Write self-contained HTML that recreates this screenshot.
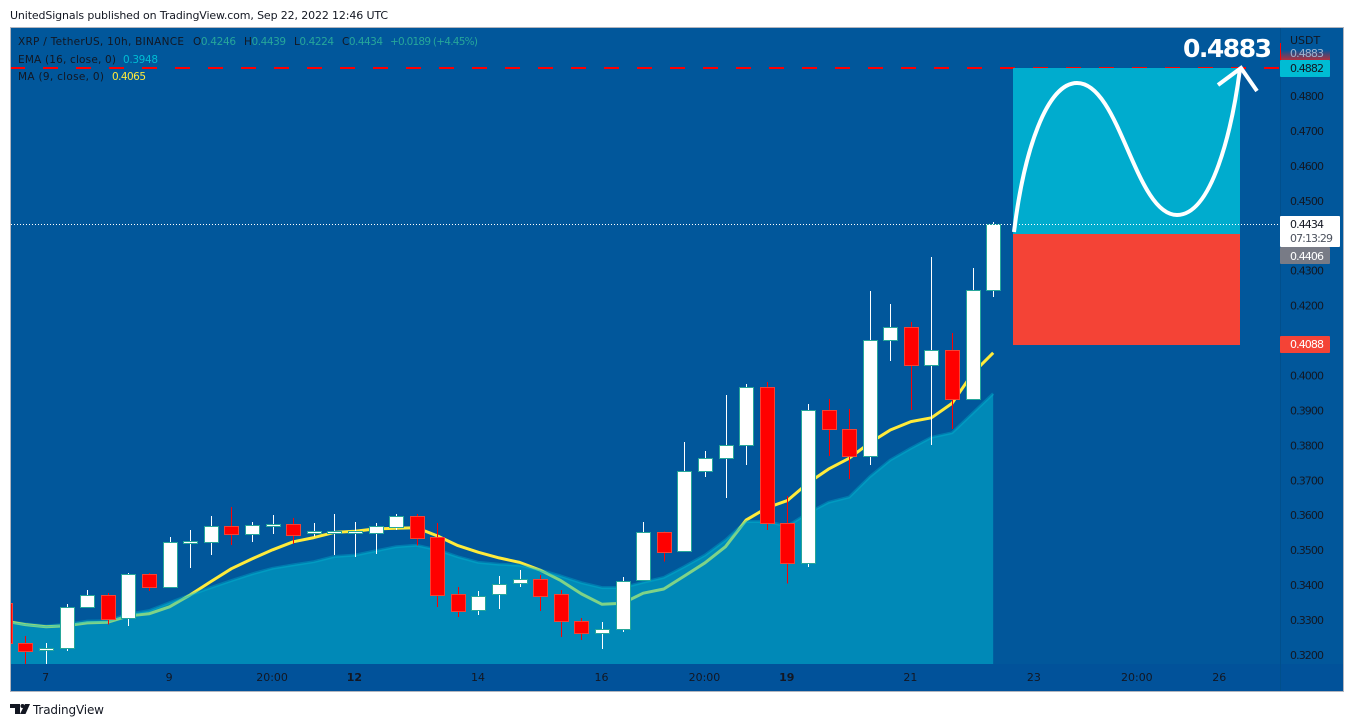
<!DOCTYPE html>
<html lang="en">
<head>
<meta charset="utf-8">
<title>XRP / TetherUS chart</title>
<style>
html,body{margin:0;padding:0;background:#fff;width:1354px;height:727px;overflow:hidden}
svg{display:block;font-family:"DejaVu Sans","Liberation Sans",sans-serif}
</style>
</head>
<body>
<svg id="chart" xmlns="http://www.w3.org/2000/svg" width="1354" height="727" viewBox="0 0 1354 727">
  <defs>
    <clipPath id="plot-clip"><rect x="11" y="28" width="1269" height="636"/></clipPath>
    <linearGradient id="fade-label" x1="0" y1="0" x2="0" y2="1">
      <stop offset="0" stop-color="#01579b"/>
      <stop offset="1" stop-color="#b0303f"/>
    </linearGradient>
  </defs>
  <text x="10" y="19" font-size="11" fill="#131722" textLength="378" lengthAdjust="spacing">UnitedSignals published on TradingView.com, Sep 22, 2022 12:46 UTC</text>
  <rect x="10.5" y="27.5" width="1333" height="664" fill="#01579b" stroke="#b2b5be"/>
  <rect x="11" y="664" width="1332" height="27" fill="#01529a"/>
  <line x1="1280.5" y1="28" x2="1280.5" y2="691" stroke="#014f8c"/>
  <g id="plot" clip-path="url(#plot-clip)"></g>
  <g id="price-axis"></g>
  <g id="time-axis"></g>

  <g font-size="10.500">
    <text x="18" y="45" fill="#131722" textLength="166" lengthAdjust="spacing">XRP / TetherUS, 10h, BINANCE</text>
    <text x="193" y="45" fill="#26a69a" textLength="43" lengthAdjust="spacing"><tspan fill="#131722">O</tspan>0.4246</text>
    <text x="244" y="45" fill="#26a69a" textLength="42" lengthAdjust="spacing"><tspan fill="#131722">H</tspan>0.4439</text>
    <text x="294" y="45" fill="#26a69a" textLength="40" lengthAdjust="spacing"><tspan fill="#131722">L</tspan>0.4224</text>
    <text x="342" y="45" fill="#26a69a" textLength="41" lengthAdjust="spacing"><tspan fill="#131722">C</tspan>0.4434</text>
    <text x="390" y="45" fill="#26a69a" textLength="88" lengthAdjust="spacing">+0.0189 (+4.45%)</text>
    <text x="18" y="63" fill="#131722" textLength="98" lengthAdjust="spacing">EMA (16, close, 0)</text>
    <text x="123" y="63" fill="#00bcd4" textLength="35" lengthAdjust="spacing">0.3948</text>
    <text x="18" y="80" fill="#131722" textLength="86" lengthAdjust="spacing">MA (9, close, 0)</text>
    <text x="112" y="80" fill="#ffeb3b" textLength="34" lengthAdjust="spacing">0.4065</text>
  </g>

  <g>
    <path d="M10 704h10v10h-5v-6h-5z" fill="#131722"/>
    <circle cx="22.500" cy="706" r="2" fill="#131722"/>
    <path d="M25 704h5l-4.500 10h-5.500z" fill="#131722"/>
    <text x="33" y="714" font-size="12" fill="#131722" textLength="71" lengthAdjust="spacing">TradingView</text>
  </g>
</svg>
<script>
var opens  = [0.3348,0.3233,0.3213,0.3219,0.3337,0.3371,0.3305,0.3431,0.3395,0.3521,0.3524,0.3568,0.3547,0.3570,0.3574,0.3548,0.3550,0.3550,0.3550,0.3567,0.3597,0.3537,0.3374,0.3328,0.3374,0.3405,0.3417,0.3374,0.3296,0.3262,0.3274,0.3414,0.3551,0.3497,0.3726,0.3763,0.3800,0.3966,0.3577,0.3462,0.3900,0.3846,0.3770,0.4101,0.4138,0.4031,0.4072,0.3934,0.4246];
var highs  = [0.3350,0.3255,0.3234,0.3346,0.3386,0.3377,0.3434,0.3434,0.3538,0.3558,0.3598,0.3623,0.3580,0.3601,0.3592,0.3578,0.3604,0.3581,0.3578,0.3604,0.3604,0.3578,0.3395,0.3383,0.3426,0.3443,0.3429,0.3386,0.3306,0.3294,0.3423,0.3581,0.3554,0.3810,0.3784,0.3944,0.3976,0.3981,0.3655,0.3918,0.3932,0.3904,0.4242,0.4205,0.4153,0.4339,0.4121,0.4308,0.4439];
var lows   = [0.3230,0.3174,0.3174,0.3211,0.3337,0.3287,0.3283,0.3383,0.3395,0.3449,0.3486,0.3515,0.3523,0.3546,0.3517,0.3539,0.3486,0.3480,0.3489,0.3558,0.3513,0.3337,0.3309,0.3314,0.3332,0.3395,0.3326,0.3252,0.3243,0.3217,0.3266,0.3414,0.3467,0.3497,0.3709,0.3649,0.3744,0.3558,0.3404,0.3452,0.3770,0.3704,0.3744,0.4041,0.3901,0.3801,0.3847,0.3934,0.4224];
var closes = [0.3235,0.3212,0.3219,0.3337,0.3371,0.3304,0.3431,0.3395,0.3523,0.3526,0.3568,0.3547,0.3571,0.3575,0.3544,0.3554,0.3556,0.3556,0.3568,0.3597,0.3536,0.3373,0.3327,0.3370,0.3404,0.3417,0.3370,0.3296,0.3262,0.3274,0.3413,0.3551,0.3496,0.3726,0.3763,0.3800,0.3966,0.3577,0.3462,0.3900,0.3848,0.3770,0.4101,0.4138,0.4031,0.4072,0.3934,0.4244,0.4434];
var maValues  = [0.3297,0.3287,0.3281,0.3284,0.3292,0.3294,0.3312,0.3318,0.3338,0.3372,0.3410,0.3447,0.3475,0.3501,0.3524,0.3536,0.3551,0.3554,0.3561,0.3563,0.3564,0.3541,0.3513,0.3494,0.3478,0.3465,0.3443,0.3413,0.3375,0.3345,0.3348,0.3377,0.3389,0.3426,0.3464,0.3510,0.3586,0.3621,0.3642,0.3692,0.3732,0.3763,0.3807,0.3844,0.3868,0.3879,0.3920,0.4006,0.4065];
var emaValues = [0.3297,0.3289,0.3283,0.3288,0.3297,0.3298,0.3317,0.3327,0.3350,0.3372,0.3393,0.3413,0.3432,0.3448,0.3458,0.3467,0.3482,0.3486,0.3498,0.3510,0.3514,0.3501,0.3481,0.3465,0.3460,0.3457,0.3443,0.3426,0.3407,0.3393,0.3393,0.3408,0.3422,0.3453,0.3486,0.3529,0.3582,0.3582,0.3569,0.3606,0.3637,0.3652,0.3710,0.3758,0.3792,0.3823,0.3836,0.3892,0.3948];
var priceTicks = ["0.4800","0.4700","0.4600","0.4500","0.4300","0.4200","0.4000","0.3900","0.3800","0.3700","0.3600","0.3500","0.3400","0.3300","0.3200"];
var timeLabels = ["7","9","20:00","12","14","16","20:00","19","21","23","20:00","26"];
var timeSlots  = [2,8,13,17,23,29,34,38,44,50,55,59];
var boldLabels = ["12","19"];
var targetPrice = 0.4882;
var hiddenTargetPrice = 0.4883;
var entryPrice = 0.4406;
var stopPrice = 0.4088;
var lastPrice = 0.4434;

var NS = 'http://www.w3.org/2000/svg';
function xAt(slot) { return 4.9 + 20.59 * slot; }
function yAt(price) { return 655 - (price - 0.32) * 3494; }
function make(tag, attrs, parent) {
  var el = document.createElementNS(NS, tag);
  for (var k in attrs) el.setAttribute(k, attrs[k]);
  parent.appendChild(el);
  return el;
}
function linePoints(values) {
  return values.map(function (v, i) { return xAt(i).toFixed(1) + ',' + yAt(v).toFixed(1); }).join(' ');
}
var plot = document.getElementById('plot');
var priceAxis = document.getElementById('price-axis');
var timeAxis = document.getElementById('time-axis');

/* moving average sits beneath the translucent EMA area */
var maLine = make('polyline', {points: linePoints(maValues), fill: 'none', stroke: '#ffeb3b', 'stroke-width': 3, 'stroke-linejoin': 'round'}, plot);



var lastSlot = emaValues.length - 1;
var emaArea = make('polygon', {points: linePoints(emaValues) + ' ' + xAt(lastSlot).toFixed(1) + ',664 ' + xAt(0).toFixed(1) + ',664', fill: '#00bcd4', 'fill-opacity': 0.5}, plot);


var emaLine = make('polyline', {points: linePoints(emaValues), fill: 'none', stroke: '#00bcd4', 'stroke-opacity': 0.35, 'stroke-width': 3, 'stroke-linejoin': 'round'}, plot);



/* candles */
opens.forEach(function (open, i) {
  var close = closes[i];
  var up = close >= open;
  var cx = Math.round(xAt(i));
  var top = Math.round(yAt(Math.max(open, close)));
  var bottom = Math.round(yAt(Math.min(open, close)));
  var g = make('g', {'shape-rendering': 'crispEdges'}, plot);
  
  
  var wick = make('line', {x1: cx + 0.5, x2: cx + 0.5, y1: yAt(highs[i]), y2: yAt(lows[i]), stroke: up ? '#ffffff' : '#ff0000', 'stroke-width': 1}, g);
  
  
  var body = make('rect', {x: cx - 6.5, y: top + 0.5, width: 14, height: Math.max(bottom - top, 1), fill: up ? '#ffffff' : '#ff0000', stroke: up ? '#26a69a' : '#f44336', 'stroke-width': 1}, g);
  
  
});

/* target dashed line */
var targetY = Math.ceil(yAt(targetPrice));
var dash = make('line', {x1: 10, x2: 1280, y1: targetY, y2: targetY, stroke: '#ff0000', 'stroke-width': 2, 'stroke-dasharray': '15 18', 'shape-rendering': 'crispEdges'}, plot);



/* long-position boxes */
var entryY = Math.round(yAt(entryPrice));
var stopY = Math.round(yAt(stopPrice));
var profit = make('rect', {x: 1013, y: targetY, width: 227, height: entryY - targetY, fill: '#00acce'}, plot);


var loss = make('rect', {x: 1013, y: entryY, width: 227, height: stopY - entryY, fill: '#f44336'}, plot);



/* last price dotted line */
var lastY = Math.round(yAt(lastPrice));
var dotted = make('line', {x1: 11, x2: 1280, y1: lastY + 0.5, y2: lastY + 0.5, stroke: '#ffffff', 'stroke-width': 1, 'stroke-dasharray': '1 2'}, plot);



/* drawn forecast arrow */
var curve = make('path', {d: 'M1014 232C1024 150 1047 83 1077 83C1120 83 1135 215 1177 215C1212 215 1232 130 1240 69', fill: 'none', stroke: '#ffffff', 'stroke-width': 4}, plot);


var head = make('polyline', {points: '1218,85 1241,68 1257,91', fill: 'none', stroke: '#ffffff', 'stroke-width': 4}, plot);


var target = make('text', {x: 1183, y: 57, 'font-size': 25, 'font-weight': 'bold', fill: '#ffffff', textLength: 89, lengthAdjust: 'spacing'}, plot);
target.textContent = '0.4883';



/* price axis */
var unit = make('text', {x: 1290, y: 44, 'font-size': 11, fill: '#131722'}, priceAxis);
unit.textContent = 'USDT';



priceTicks.forEach(function (t) {
  var tick = make('text', {x: 1290, y: yAt(parseFloat(t)) + 4, 'font-size': 11, fill: '#131722', textLength: 34, lengthAdjust: 'spacing'}, priceAxis);
  tick.textContent = t;
  
  
});

var fadeBox = make('rect', {x: 1281, y: 50, width: 49, height: 10, fill: 'url(#fade-label)'}, priceAxis);


var ghost = make('text', {x: 1290, y: 57, 'font-size': 11, fill: '#9fb4d0', textLength: 34, lengthAdjust: 'spacing'}, priceAxis);
ghost.textContent = hiddenTargetPrice.toFixed(4);


var fadeMark = make('line', {x1: 1280.5, x2: 1280.5, y1: 43, y2: 60, stroke: '#ff0000'}, priceAxis);



function axisBadge(name, top, width, height, fill, color, label, baseline) {
  var box = make('rect', {x: 1280, y: top, width: width, height: height, rx: 1, fill: fill}, priceAxis);
  
  
  var txt = make('text', {x: 1290, y: baseline, 'font-size': 11, fill: color, textLength: 34, lengthAdjust: 'spacing'}, priceAxis);
  txt.textContent = label;
  
  
}
axisBadge('target-price-badge', targetY - 8, 50, 17, '#00bcd4', '#131722', targetPrice.toFixed(4), targetY + 4);
axisBadge('last-price-badge', lastY - 8, 60, 31, '#ffffff', '#131722', lastPrice.toFixed(4), lastY + 4);
var countdown = make('text', {x: 1290, y: lastY + 18, 'font-size': 11, fill: '#4c525e', textLength: 43, lengthAdjust: 'spacing'}, priceAxis);
countdown.textContent = '07:13:29';


axisBadge('entry-price-badge', 247, 50, 17, '#787b86', '#ffffff', entryPrice.toFixed(4), 260);
axisBadge('stop-price-badge', stopY - 9, 50, 17, '#f44336', '#ffffff', stopPrice.toFixed(4), stopY + 3);

/* time axis */
timeLabels.forEach(function (label, i) {
  var t = make('text', {x: xAt(timeSlots[i]) - 0.5, y: 681, 'font-size': 11, fill: '#131722', 'text-anchor': 'middle', 'font-weight': boldLabels.indexOf(label) >= 0 ? 'bold' : 'normal'}, timeAxis);
  t.textContent = label;
  
  
});
</script>
</body>
</html>
